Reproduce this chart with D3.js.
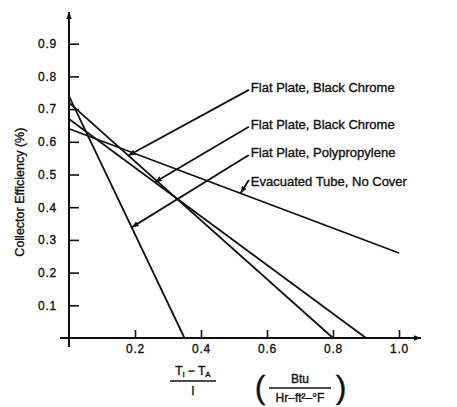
<!DOCTYPE html>
<html>
<head>
<meta charset="utf-8">
<script src="https://cdn.jsdelivr.net/npm/d3@7"></script>
<style>
  body { margin: 0; background: #fff; }
  svg { display: block; }
  text { font-family: "Liberation Sans", Arial, sans-serif; fill: #111; stroke: #111; stroke-width: 0.35; }
  .axis text { font-size: 12px; letter-spacing: 0.8px; }
  .axis line { stroke: #111; stroke-width: 1.6; }
</style>
</head>
<body>
<div id="chart"></div>
<script>
// collector lines: start point and end point (x = (Ti - Ta)/I, y = efficiency)
const collectors = ["Flat Plate, Black Chrome", "Flat Plate, Black Chrome", "Flat Plate, Polypropylene", "Evacuated Tube, No Cover"];
const startX = [0, 0, 0, 0];
const startY = [0.72, 0.67, 0.74, 0.64];
const endX = [0.80, 0.90, 0.35, 1.0];
const endY = [0, 0, 0, 0.26];

// where each leader arrow touches its line (x value) and where the label sits (y value)
const arrowX = [0.18, 0.26, 0.19, 0.52];
const labelY = [0.765, 0.652, 0.566, 0.48];

const xTicks = [0.2, 0.4, 0.6, 0.8, 1.0];
const yTicks = [0.1, 0.2, 0.3, 0.4, 0.5, 0.6, 0.7, 0.8, 0.9];

const W = 457, H = 407;
const svg = d3.select("#chart").append("svg").attr("width", W).attr("height", H);

const x = d3.scaleLinear().domain([0, 1]).range([69, 399]);
const y = d3.scaleLinear().domain([0, 1]).range([338, 11]);

// arrowhead
svg.append("defs").append("marker")
  .attr("id", "arr").attr("viewBox", "0 0 10 10")
  .attr("refX", 10).attr("refY", 5)
  .attr("markerWidth", 7).attr("markerHeight", 7)
  .attr("markerUnits", "userSpaceOnUse")
  .attr("orient", "auto")
  .append("path").attr("d", "M0,1L10,5L0,9Z").attr("fill", "#111");

// y axis
const yAxis = svg.append("g").attr("class", "axis")
  .attr("transform", `translate(${x(0)},0)`)
  .call(d3.axisLeft(y).tickValues(yTicks).tickSize(-10).tickPadding(12).tickFormat(d3.format(".1f")));
yAxis.select(".domain").remove();

// x axis
const xAxis = svg.append("g").attr("class", "axis")
  .attr("transform", `translate(0,${y(0)})`)
  .call(d3.axisBottom(x).tickValues(xTicks).tickSize(-8).tickPadding(6).tickFormat(d3.format(".1f")));
xAxis.select(".domain").remove();

// axis lines with arrows
svg.append("line")
  .attr("x1", x(0)).attr("y1", y(0) + 9).attr("x2", x(0)).attr("y2", 12)
  .attr("stroke", "#111").attr("stroke-width", 2).attr("marker-end", "url(#arr)");
svg.append("line")
  .attr("x1", x(0) - 9).attr("y1", y(0)).attr("x2", 421).attr("y2", y(0))
  .attr("stroke", "#111").attr("stroke-width", 2).attr("marker-end", "url(#arr)");

// collector lines
const lineAt = (i, xv) => startY[i] + (endY[i] - startY[i]) * (xv - startX[i]) / (endX[i] - startX[i]);

svg.selectAll(".collector")
  .data(collectors)
  .enter().append("line")
  .attr("class", "collector")
  .attr("x1", (d, i) => x(startX[i])).attr("y1", (d, i) => y(startY[i]))
  .attr("x2", (d, i) => x(endX[i])).attr("y2", (d, i) => y(endY[i]))
  .attr("stroke", "#111").attr("stroke-width", 1.8);

// leaders
const labelX = 0.545;
svg.selectAll(".leader")
  .data(collectors)
  .enter().append("line")
  .attr("class", "leader")
  .attr("x1", x(labelX)).attr("y1", (d, i) => y(labelY[i]) + (i === 3 ? -1 : 2))
  .attr("x2", (d, i) => x(arrowX[i])).attr("y2", (d, i) => y(lineAt(i, arrowX[i])))
  .attr("stroke", "#111").attr("stroke-width", 1.8).attr("marker-end", "url(#arr)");

svg.selectAll(".label")
  .data(collectors)
  .enter().append("text")
  .attr("class", "label")
  .attr("x", x(labelX) + 2)
  .attr("y", (d, i) => y(labelY[i]) + 4.5)
  .style("font-size", "13px")
  .text(d => d);

// y title
svg.append("text")
  .attr("transform", `translate(24,${y(0.446)}) rotate(-90)`)
  .attr("text-anchor", "middle")
  .style("font-size", "12.5px")
  .text("Collector Efficiency (%)");

// x title: (Ti - TA) / I  ( Btu / Hr-ft²-°F )
const t = svg.append("g").style("font-size", "12px");
const fx = 193, fy = 381;
t.append("text").attr("x", fx).attr("y", fy - 6).attr("text-anchor", "middle")
  .html('T<tspan font-size="8" dy="2">i</tspan><tspan dy="-2"> \u2212 T</tspan><tspan font-size="8" dy="2">A</tspan>');
t.append("line").attr("x1", fx - 23).attr("x2", fx + 23).attr("y1", fy).attr("y2", fy).attr("stroke", "#111").attr("stroke-width", 1.4);
t.append("text").attr("x", fx).attr("y", fy + 14).attr("text-anchor", "middle").text("I");

const px = 300, py = 388;
t.append("text").attr("x", px).attr("y", py - 5).attr("text-anchor", "middle").text("Btu");
t.append("line").attr("x1", px - 31).attr("x2", px + 31).attr("y1", py).attr("y2", py).attr("stroke", "#111").attr("stroke-width", 1.4);
t.append("text").attr("x", px).attr("y", py + 14).attr("text-anchor", "middle").text("Hr\u2013ft\u00b2\u2013\u00b0F");
t.append("text").attr("x", px - 40).attr("y", py + 10).attr("text-anchor", "middle").style("font-size", "32px").text("(");
t.append("text").attr("x", px + 41).attr("y", py + 10).attr("text-anchor", "middle").style("font-size", "32px").text(")");
</script>
</body>
</html>
